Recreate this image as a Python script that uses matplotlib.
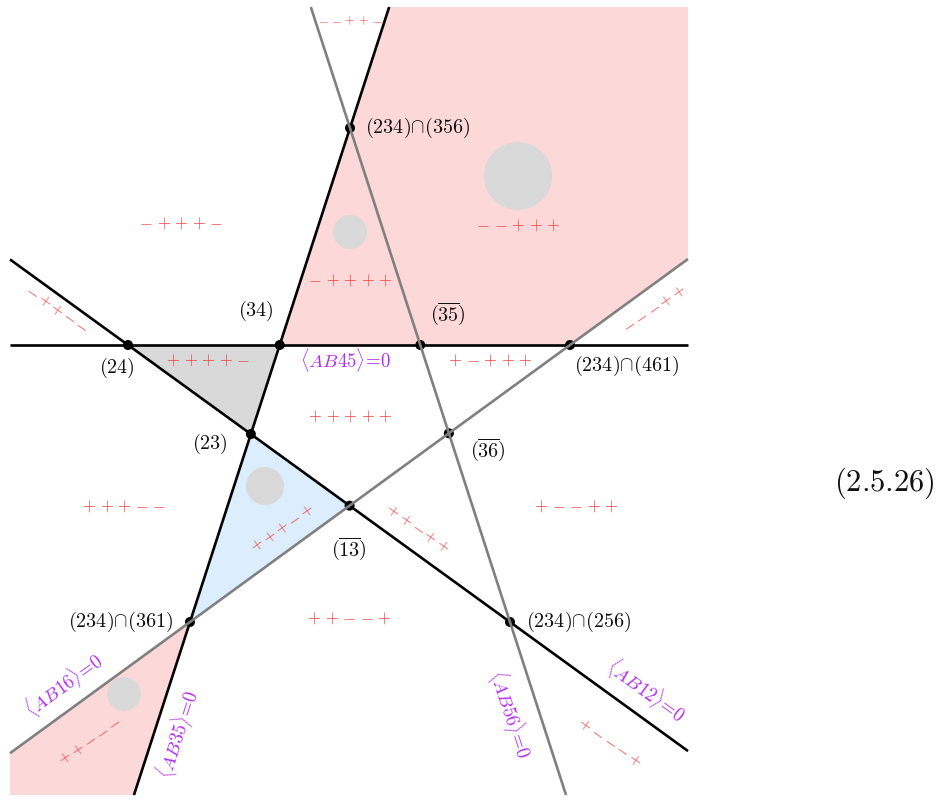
import numpy as np
import matplotlib
matplotlib.use("Agg")
import matplotlib.pyplot as plt
from matplotlib.patches import Polygon, Circle

plt.rcParams["mathtext.fontset"] = "cm"

# Drawing box (canvas units, y grows downward)
BOX = (10, 7, 688, 795)

# Each line is given by two points it passes through, plus its colour
line_names = ["H", "A", "B", "C", "D"]
line_p1 = [(10, 345), (128, 345), (190, 622), (350, 128), (190, 622)]
line_p2 = [(688, 345), (510, 622), (350, 128), (510, 622), (570, 345)]
line_colors = ["black", "black", "black", "#808080", "#808080"]

# Sign vectors written inside chambers: text, centre, angle, spacing, size
sign_text = ["--++-", "-+++-", "-++++", "--+++", "-++--", "++++-", "+-+++",
             "---++", "+++++", "+++--", "+++-+", "++-++", "+--++", "++--+",
             "++---", "+---+"]
sign_xy = [(350, 21), (181, 223), (350, 280), (518, 225), (57, 309),
           (208, 360), (490, 360), (654, 309), (350, 416), (124, 506),
           (282, 528), (418, 528), (576, 506), (349, 618), (90, 741),
           (610, 742)]
sign_angle = [0, 0, 0, 0, -35, 0, 0, 35, 0, 0, 35, -35, 0, 0, 35, -35]
sign_step = [13.5, 17.5, 17.5, 17.5, 15, 17.5, 17.5, 15, 17.5, 17.5,
             15, 15, 17.5, 17.5, 15, 15]
sign_size = [9, 12, 12, 12, 11.5, 12, 12, 11.5, 12, 12, 11.5, 11.5, 12,
             12, 11.5, 11.5]

# Vertex labels
point_pairs = [("H", "A"), ("H", "B"), ("H", "C"), ("H", "D"), ("B", "C"),
               ("A", "B"), ("C", "D"), ("A", "D"), ("B", "D"), ("A", "C")]
point_labels = [r"$(24)$", r"$(34)$", r"$(\overline{35})$",
                r"$(234){\cap}(461)$", r"$(234){\cap}(356)$", r"$(23)$",
                r"$(\overline{36})$", r"$(\overline{13})$",
                r"$(234){\cap}(361)$", r"$(234){\cap}(256)$"]
point_label_xy = [(117, 368), (256, 311), (448, 314), (627, 366),
                  (365, 128), (210, 444), (488, 450), (349, 549),
                  (173, 622), (526, 622)]
point_label_ha = ["center", "center", "center", "center", "left", "center",
                  "center", "center", "right", "left"]

# Hyperplane names
plane_labels = [r"$\langle AB45\rangle\!=\!0$", r"$\langle AB16\rangle\!=\!0$",
                r"$\langle AB35\rangle\!=\!0$", r"$\langle AB56\rangle\!=\!0$",
                r"$\langle AB12\rangle\!=\!0$"]
plane_xy = [(346, 360), (64, 685), (178, 734), (510, 714), (646, 690)]
plane_angle = [0, 36, 72, -72, -36]

# Grey discs marking selected chambers
disc_xy = [(518, 176), (350, 232), (265, 486), (124, 694)]
disc_r = [34, 17, 19, 17]

PINK = "#FDD8D9"
GREY = "#D9D9D9"
BLUE = "#DCEDFD"
SIGN = "#F03C3C"
PURPLE = "#B12EF2"

lines = {n: (np.array(p, float), np.array(q, float))
         for n, p, q in zip(line_names, line_p1, line_p2)}


def meet(a, b):
    p1, q1 = lines[a]
    p2, q2 = lines[b]
    d1, d2 = q1 - p1, q2 - p2
    m = np.array([d1, -d2]).T
    t = np.linalg.solve(m, p2 - p1)[0]
    return p1 + t * d1


def clip(name):
    p, q = lines[name]
    d = q - p
    x0, y0, x1, y1 = BOX
    lo, hi = -np.inf, np.inf
    for k, (a, b) in enumerate([(x0, x1), (y0, y1)]):
        if abs(d[k]) < 1e-12:
            continue
        ta, tb = (a - p[k]) / d[k], (b - p[k]) / d[k]
        lo = max(lo, min(ta, tb))
        hi = min(hi, max(ta, tb))
    return p + lo * d, p + hi * d


ends = {n: clip(n) for n in line_names}

fig = plt.figure(figsize=(9.49, 8), dpi=100)
ax = fig.add_axes([0, 0, 1, 1])
ax.set_xlim(0, 949)
ax.set_ylim(800, 0)
ax.axis("off")

x0, y0, x1, y1 = BOX
b_top = min(ends["B"], key=lambda v: v[1])
b_bot = max(ends["B"], key=lambda v: v[1])
d_right = max(ends["D"], key=lambda v: v[0])
d_left = min(ends["D"], key=lambda v: v[0])

regions = [
    ([meet("H", "B"), b_top, (x1, y0), d_right, meet("H", "D")], PINK),
    ([meet("H", "A"), meet("H", "B"), meet("A", "B")], GREY),
    ([meet("A", "B"), meet("A", "D"), meet("B", "D")], BLUE),
    ([d_left, meet("B", "D"), b_bot, (x0, y1)], PINK),
]
for verts, col in regions:
    ax.add_patch(Polygon(np.array(verts, float), closed=True, fc=col,
                         ec="none", zorder=1))

for (cx, cy), r in zip(disc_xy, disc_r):
    ax.add_patch(Circle((cx, cy), r, fc=GREY, ec="none", zorder=2))

for n, col in zip(line_names, line_colors):
    if col == "black":
        a, b = ends[n]
        ax.plot([a[0], b[0]], [a[1], b[1]], color=col, lw=1.9,
                solid_capstyle="butt", zorder=3)

for a, b in point_pairs:
    p = meet(a, b)
    ax.add_patch(Circle(p, 5, fc="black", ec="none", zorder=4))

for n, col in zip(line_names, line_colors):
    if col != "black":
        a, b = ends[n]
        ax.plot([a[0], b[0]], [a[1], b[1]], color=col, lw=1.9,
                solid_capstyle="butt", zorder=5)


def draw_signs(s, xy, ang, step, size):
    # '+' and '-' share a baseline; their centres sit on the math axis
    t = np.radians(ang)
    ux, uy = np.cos(t), -np.sin(t)
    h = 0.25 * size * 100 / 72
    bx, by = xy[0] + h * np.sin(t), xy[1] + h * np.cos(t)
    n = len(s)
    for i, ch in enumerate(s):
        off = (i - (n - 1) / 2) * step
        sym = r"$+$" if ch == "+" else r"$-$"
        ax.text(bx + off * ux, by + off * uy, sym, color=SIGN,
                fontsize=size, rotation=ang, rotation_mode="anchor",
                ha="center", va="baseline", zorder=6)


for s, xy, ang, st, sz in zip(sign_text, sign_xy, sign_angle, sign_step,
                              sign_size):
    draw_signs(s, xy, ang, st, sz)

for txt, (x, y), ha in zip(point_labels, point_label_xy, point_label_ha):
    ax.text(x, y, txt, fontsize=14.5, color="#111111", ha=ha, va="center",
            zorder=6)

for txt, (x, y), ang in zip(plane_labels, plane_xy, plane_angle):
    ax.text(x, y, txt, fontsize=13.5, color=PURPLE, ha="center",
            va="center", rotation=ang, rotation_mode="anchor", zorder=6)

ax.text(884, 483, r"$(2.5.26)$", fontsize=22, color="#111111",
        ha="center", va="center")

fig.savefig("out.png", dpi=100)
